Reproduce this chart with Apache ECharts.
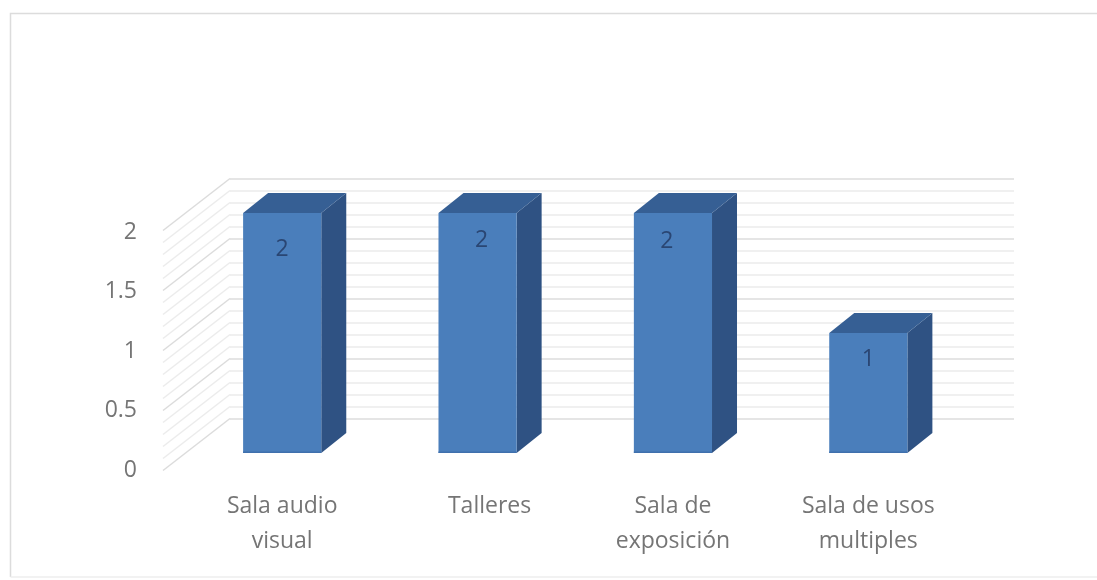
<!DOCTYPE html>
<html>
<head>
<meta charset="utf-8">
<style>html,body{margin:0;padding:0;background:#fff;overflow:hidden}#c{width:1097px;height:580px;filter:blur(0.6px)}</style>
<script src="https://cdn.jsdelivr.net/npm/echarts@6/dist/echarts.min.js"></script>
</head>
<body>
<div id="c"></div>
<script>
const categories = ['Sala audio\nvisual', 'Talleres', 'Sala de\nexposición', 'Sala de usos\nmultiples'];
const values = [2, 2, 2, 1];
const wallLevels = [0,0.1,0.2,0.3,0.4,0.5,0.6,0.7,0.8,0.9,1,1.1,1.2,1.3,1.4,1.5,1.6,1.7,1.8,1.9,2];
const majorLevels = [0,0.5,1,1.5,2];

// layout
const labelNudge = [[0,36],[4,27],[-6,28],[0,26]];
const depth = [25,-20];
const font = '"Open Sans", sans-serif';
const chart = echarts.init(document.getElementById('c'), null, {renderer:'canvas'});

function renderBar(params, api){
  const i = api.value(0), v = api.value(1);
  const top = api.coord([i, v]), base = api.coord([i, 0]);
  const w = api.size([1,0])[0]*0.4;
  const l = top[0]-w/2, r = top[0]+w/2, t = top[1], b = base[1];
  const [dx,dy] = depth;
  const poly = (pts, fill) => ({type:'polygon', shape:{points:pts}, style:{fill}});
  const n = labelNudge[params.dataIndex];
  return {type:'group', children:[
    poly([[r,t],[r+dx,t+dy],[r+dx,b+dy],[r,b]], '#2f5283'),
    poly([[l,t],[l+dx,t+dy],[r+dx,t+dy],[r,t]], '#365f94'),
    poly([[l,t],[r,t],[r,b],[l,b]], '#4a7ebb'),
    {type:'rect', shape:{x:l,y:b-1.5,width:w,height:1.5}, style:{fill:'#3f70ad'}},
    {type:'text', style:{text:String(v), x:top[0]+n[0], y:t+n[1], align:'center', verticalAlign:'middle',
      font:'23px '+font, fill:'#2a4673'}}
  ]};
}
function renderSide(params, api){
  const v = api.value(1);
  const p = api.coord([0, v]);
  const major = majorLevels.includes(v);
  return {type:'line', shape:{x1:p[0],y1:p[1],x2:p[0]-67,y2:p[1]+52},
    style:{stroke: major ? '#dcdcdc' : '#ececec', lineWidth:1.5}};
}

chart.setOption({
  animation:false,
  backgroundColor:'#ffffff',
  graphic:[
    {type:'polyline', shape:{points:[[1100,13.5],[10.5,13.5],[10.5,577]]}, silent:true, z:-1,
      style:{fill:null, stroke:'#dcdcdc', lineWidth:1.5}},
    {type:'line', shape:{x1:10.5,y1:577,x2:1100,y2:577}, silent:true, z:-1,
      style:{stroke:'#eeeeee', lineWidth:1.5}}
  ],
  grid:[
    {left:230, width:784, top:178.5, height:240},
    {left:184.5, width:781.5, top:213, height:240},
    {left:163, width:10, top:232, height:238}
  ],
  xAxis:[
    {gridIndex:0, type:'value', min:0, max:1, show:false},
    {gridIndex:1, type:'category', data:categories,
      axisLine:{show:false}, axisTick:{show:false},
      axisLabel:{margin:36, color:'#757575', fontFamily:font, fontSize:23, lineHeight:35, interval:0,
        formatter:(s)=> s==='Talleres' ? '{shift|'+s+'}' : s,
        rich:{shift:{padding:[0,0,0,24], color:'#757575', fontFamily:font, fontSize:23, lineHeight:35}}}},
    {gridIndex:2, type:'value', min:0, max:1, show:false}
  ],
  yAxis:[
    {gridIndex:0, type:'value', min:0, max:2, interval:0.5,
      axisLine:{show:false}, axisTick:{show:false}, axisLabel:{show:false},
      splitLine:{show:true, lineStyle:{color:'#dcdcdc', width:1.5}},
      minorTick:{show:false, splitNumber:5},
      minorSplitLine:{show:true, lineStyle:{color:'#ececec', width:1.5}}},
    {gridIndex:1, type:'value', min:0, max:2, show:false},
    {gridIndex:2, type:'value', min:0, max:2, interval:0.5,
      axisLine:{show:false}, axisTick:{show:false}, splitLine:{show:false},
      axisLabel:{margin:26, color:'#757575', fontFamily:font, fontSize:23}}
  ],
  series:[
    {type:'custom', xAxisIndex:0, yAxisIndex:0, clip:false, silent:true, renderItem:renderSide,
      encode:{x:0,y:1}, data:wallLevels.map(v=>[0,v])},
    {type:'custom', xAxisIndex:1, yAxisIndex:1, clip:false, renderItem:renderBar,
      encode:{x:0,y:1}, data:values.map((v,i)=>[i,v]), z:5},
    {type:'scatter', xAxisIndex:2, yAxisIndex:2, data:[], silent:true}
  ]
});
</script>
</body>
</html>
